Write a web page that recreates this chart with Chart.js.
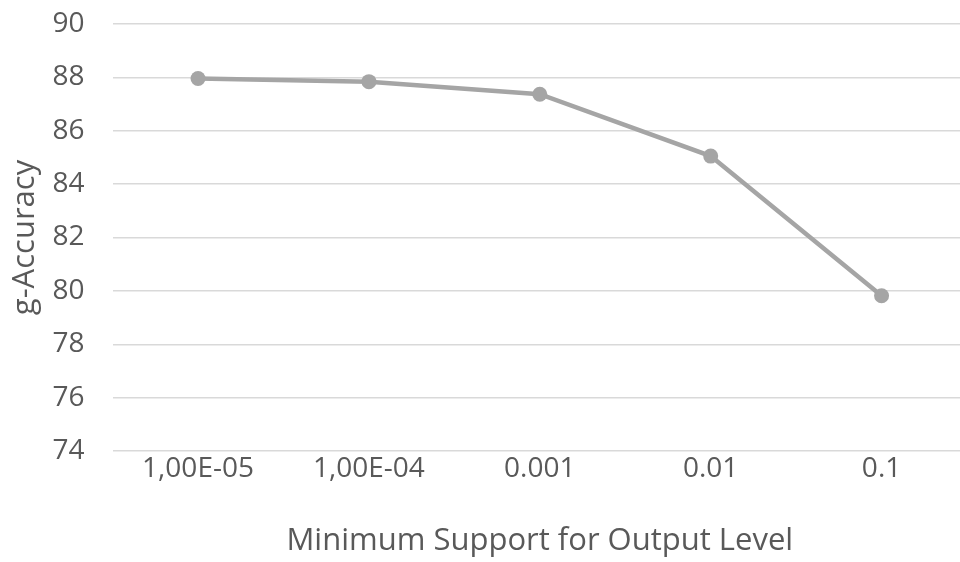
<!DOCTYPE html>
<html>
<head>
<meta charset="utf-8">
<script src="https://cdn.jsdelivr.net/npm/chart.js@4"></script>
<style>
  html, body { margin: 0; padding: 0; background: #fff; overflow: hidden; }
  #wrap { position: relative; width: 967px; height: 562px; }
</style>
</head>
<body>
<div id="wrap"><canvas id="c"></canvas></div>
<script>
// Minimum support thresholds and the resulting g-Accuracy
const supportLevels = ['1,00E-05', '1,00E-04', '0.001', '0.01', '0.1'];
const gAccuracy = [87.96, 87.84, 87.37, 85.05, 79.82];
const yTicks = [74, 76, 78, 80, 82, 84, 86, 88, 90];

const textColor = '#595959';
const fontFamily = '"Open Sans", "Noto Sans", sans-serif';

new Chart(document.getElementById('c'), {
  type: 'line',
  data: {
    labels: supportLevels,
    datasets: [{
      data: gAccuracy,
      borderColor: '#a5a5a5',
      backgroundColor: '#a5a5a5',
      borderWidth: 4.5,
      pointRadius: 7.5,
      pointHoverRadius: 7.5,
      pointBorderWidth: 0,
      tension: 0,
      fill: false,
      clip: false
    }]
  },
  options: {
    responsive: true,
    maintainAspectRatio: false,
    animation: false,
    layout: { autoPadding: false, padding: { top: 24, right: 0, left: 0, bottom: 0 } },
    plugins: { legend: { display: false }, tooltip: { enabled: false } },
    scales: {
      x: {
        offset: true,
        grid: { display: false, drawTicks: false },
        border: { display: false },
        ticks: { color: textColor, font: { family: fontFamily, size: 28 }, padding: 1, maxRotation: 0 },
        title: {
          display: true,
          text: 'Minimum Support for Output Level',
          color: textColor,
          font: { family: fontFamily, size: 31 },
          padding: { top: 0, bottom: 2 }
        },
        afterFit: (s) => { s.height = 111; }
      },
      y: {
        min: 74,
        max: 90,
        afterBuildTicks: (s) => { s.ticks = yTicks.map(v => ({ value: v })); },
        // invisible tick marks keep the labels clear of the plot area
        grid: { color: '#d9d9d9', lineWidth: 1.5, drawTicks: true, tickLength: 28, tickColor: 'rgba(0,0,0,0)' },
        border: { display: false },
        ticks: { color: textColor, font: { family: fontFamily, size: 28 }, padding: 0 },
        title: {
          display: true,
          text: 'g-Accuracy',
          color: textColor,
          font: { family: fontFamily, size: 31 },
          padding: { top: 7, bottom: 0 }
        },
        afterFit: (s) => { s.width = 112.6; }
      }
    }
  }
});
</script>
</body>
</html>
